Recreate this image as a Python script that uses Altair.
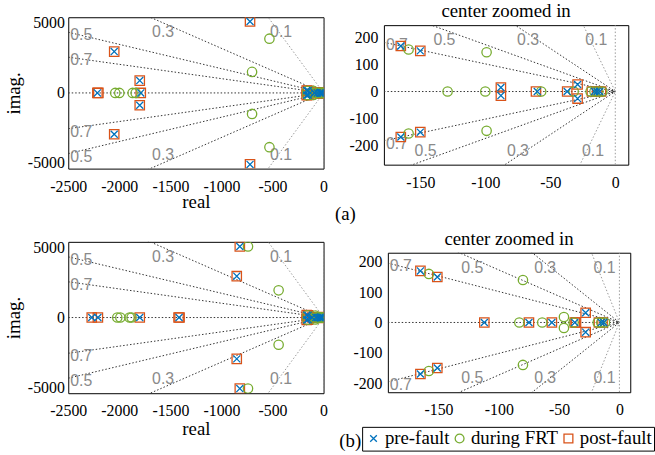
import altair as alt
import numpy as np
import pandas as pd

SERIES = ["pre-fault", "during FRT", "post-fault"]
COLORS = ["#0072BD", "#77AC30", "#D95319"]
XPATH = "M-0.75,-0.75L0.75,0.75M-0.75,0.75L0.75,-0.75"
SHAPES = [XPATH, "circle", "square"]
ZETA = [0.1, 0.3, 0.5, 0.7]

# ---- case (a) ----
a_pre_re = [-2215, -1790, -2050, -2050, -1800, -1800, -720, -720, -165, -165, -150, -150,
            -88, -88, -60, -37, -29, -29, -16, -14, -12]
a_pre_im = [0, 0, 2950, -2950, 880, -880, 5100, -5100, 168, -168, 150, -150,
            15, -15, 0, 0, 26, -26, 0, 0, 0]
a_post_re = [-2215, -2205, -1790, -2050, -2050, -1800, -1800, -720, -720, -165, -165, -150, -150,
             -88, -88, -61, -37, -29, -29, -18, -14, -11]
a_post_im = [0, 0, 0, 2950, -2950, 880, -880, 5100, -5100, 168, -168, 150, -150,
             15, -15, 0, 0, 26, -26, 0, 0, 0]
a_frt_re = [-2040, -2000, -1870, -1840, -700, -700, -530, -530, -159, -159, -129, -100,
            -99, -99, -57, -32, -19, -16, -13, -10]
a_frt_im = [0, 0, 0, 0, 1500, -1500, 3870, -3870, 155, -155, 0, 0,
            145, -145, 0, 0, 0, 0, 0, 0]

# ---- case (b) ----
b_pre_re = [-2270, -2210, -1800, -1415, -850, -850, -820, -820, -165, -165, -151, -151,
            -112, -75, -56, -37, -28, -28, -15, -13]
b_pre_im = [0, 0, 0, 0, 2950, -2950, 5070, -5070, 170, -170, 150, -150,
            0, 0, 0, 0, 32, -32, 0, 0]
b_post_re = [-2270, -2210, -1800, -1420, -1410, -850, -850, -820, -820, -165, -165, -151, -151,
             -112, -75, -56, -37, -36, -28, -28, -17, -14]
b_post_im = [0, 0, 0, 0, 0, 2950, -2950, 5070, -5070, 170, -170, 150, -150,
             0, 0, 0, 0, 0, 32, -32, 0, 0]
b_frt_re = [-2020, -1990, -1900, -1880, -740, -740, -440, -440, -158, -158, -83, -80, -80,
            -64, -46, -46, -38, -18, -15, -12]
b_frt_im = [0, 0, 0, 0, 5070, -5070, 1940, -1940, 160, -160, 0, 140, -140,
            0, 18, -18, 0, 0, 0, 0]

FULL_X = [-2500, -2000, -1500, -1000, -500, 0]
FULL_Y = [-5000, 0, 5000]
ZOOM_X = [-150, -100, -50, 0]
ZOOM_Y = [-200, -100, 0, 100, 200]

SERIF = "Liberation Serif"
LEG = alt.Legend(orient="none", legendX=297, legendY=414, direction="horizontal",
                 title=None, labelFont=SERIF, labelFontSize=19, labelColor="black",
                 strokeColor="black", padding=2, columnPadding=0, labelOffset=2,
                 symbolSize=80, symbolStrokeWidth=1.3, columns=3, cornerRadius=0)


def points_df(pre, frt, post):
    rows = []
    for name, (re, im) in (("post-fault", post), ("during FRT", frt), ("pre-fault", pre)):
        for r, i in zip(re, im):
            rows.append({"re": r, "im": i, "series": name})
    return pd.DataFrame(rows)


def zeta_lines(xdom, ydom):
    rows = []
    x0 = xdom[0]
    for z in ZETA:
        k = np.sqrt(1 - z * z) / z
        for s in (1, -1):
            seg = f"{z}_{s}"
            rows.append({"re": 0.0, "im": 0.0, "seg": seg, "z": z})
            rows.append({"re": x0, "im": s * k * (-x0), "seg": seg, "z": z})
    rows.append({"re": x0, "im": 0.0, "seg": "h", "z": 1.0})
    rows.append({"re": 0.0, "im": 0.0, "seg": "h", "z": 1.0})
    rows.append({"re": 0.0, "im": ydom[0], "seg": "v", "z": 0.0})
    rows.append({"re": 0.0, "im": ydom[1], "seg": "v", "z": 0.0})
    return pd.DataFrame(rows)


def zeta_labels(xdom, ydom):
    rows = []
    x0 = xdom[0]
    for z in ZETA:
        k = np.sqrt(1 - z * z) / z
        for s in (1, -1):
            yb = ydom[1] if s > 0 else ydom[0]
            ye = s * k * (-x0)
            if abs(ye) <= abs(yb):
                rows.append({"re": x0, "im": ye, "kind": "left", "txt": str(z)})
            else:
                rows.append({"re": -abs(yb) / k, "im": yb,
                             "kind": "top" if s > 0 else "bottom", "txt": str(z)})
    return pd.DataFrame(rows)


def panel(pre, frt, post, xdom, ydom, xticks, yticks, w, h,
          xtitle=None, ytitle=None, title=None, tag=None, ylabpad=4, xtpad=0):
    X = alt.X("re:Q", scale=alt.Scale(domain=xdom, nice=False, zero=False),
              axis=alt.Axis(values=xticks, title=xtitle, labelExpr="datum.value + ''",
                            labelFlush=False, labelPadding=10, titlePadding=xtpad))
    Y = alt.Y("im:Q", scale=alt.Scale(domain=ydom, nice=False, zero=False),
              axis=alt.Axis(values=yticks, title=ytitle, labelExpr="datum.value + ''",
                            labelPadding=ylabpad, titlePadding=4))

    lines = alt.Chart(zeta_lines(xdom, ydom)).mark_line(
        clip=True, strokeDash=[1.5, 2], strokeWidth=1).encode(
        x=X, y=Y, detail="seg:N",
        color=alt.condition("datum.z < 0.2", alt.value("#9a9a9a"), alt.value("#333333")))

    lab = zeta_labels(xdom, ydom)
    base_t = alt.Chart(lab)
    tstyle = dict(font="Liberation Sans", fontSize=16, color="#8a8a8a", align="left")
    t_left = base_t.transform_filter("datum.kind == 'left'").mark_text(
        baseline="middle", dx=2, dy=3, **tstyle).encode(x=X, y=Y, text="txt:N")
    t_top = base_t.transform_filter("datum.kind == 'top'").mark_text(
        baseline="top", dx=2, dy=7, **tstyle).encode(x=X, y=Y, text="txt:N")
    t_bot = base_t.transform_filter("datum.kind == 'bottom'").mark_text(
        baseline="bottom", dx=2, dy=-6, **tstyle).encode(x=X, y=Y, text="txt:N")

    pts = alt.Chart(points_df(pre, frt, post)).mark_point(
        filled=False, size=90, strokeWidth=1.3, clip=True, opacity=1).encode(
        x=X, y=Y,
        color=alt.Color("series:N", scale=alt.Scale(domain=SERIES, range=COLORS), legend=LEG),
        shape=alt.Shape("series:N", scale=alt.Scale(domain=SERIES, range=SHAPES), legend=LEG))

    layers = [lines, t_left, t_top, t_bot, pts]
    if tag is not None:
        tdf = pd.DataFrame({"t": [tag[0]]})
        layers.append(alt.Chart(tdf).mark_text(font=SERIF, fontSize=19, color="black").encode(
            x=alt.value(tag[1]), y=alt.value(tag[2]), text="t:N"))
    ch = alt.layer(*layers).properties(width=w, height=h)
    if title is not None:
        ch = ch.properties(title=alt.TitleParams(title, font=SERIF, fontSize=19,
                                                 fontWeight="normal", offset=4, color="black"))
    return ch


def spacer(w, h):
    return alt.Chart(pd.DataFrame({"v": [0]})).mark_point(opacity=0).encode(
        x=alt.value(0), y=alt.value(0)).properties(
        width=w, height=h, view=alt.ViewBackground(stroke="transparent"))


TL = panel((a_pre_re, a_pre_im), (a_frt_re, a_frt_im), (a_post_re, a_post_im),
           [-2500, 0], [-5400, 5400], FULL_X, FULL_Y, 258, 153,
           xtitle="real", ytitle="imag.", xtpad=-2)
TR = panel((a_pre_re, a_pre_im), (a_frt_re, a_frt_im), (a_post_re, a_post_im),
           [-178, 10], [-270, 245], ZOOM_X, ZOOM_Y, 247, 141,
           title="center zoomed in", tag=("(a)", -39, 191), ylabpad=6)
BL = panel((b_pre_re, b_pre_im), (b_frt_re, b_frt_im), (b_post_re, b_post_im),
           [-2500, 0], [-5400, 5400], FULL_X, FULL_Y, 258, 153,
           xtitle="real", ytitle="imag.", xtpad=1)
BR = panel((b_pre_re, b_pre_im), (b_frt_re, b_frt_im), (b_post_re, b_post_im),
           [-192, 9], [-230, 230], ZOOM_X, ZOOM_Y, 245, 141,
           title="center zoomed in", tag=("(b)", -38, 190), ylabpad=6)

RES = dict(x="independent", y="independent")
# left column: TL above BL; right column: TR (a little lower than TL) above BR
col1 = alt.vconcat(TL, BL, spacing=74, bounds="flush").resolve_scale(**RES)
row_br = alt.hconcat(spacer(4, 1), BR, spacing=0, bounds="flush").resolve_scale(**RES)
col2 = alt.vconcat(spacer(1, 8), TR, spacer(1, 89), row_br, spacing=0,
                   bounds="flush").resolve_scale(**RES)
chart = alt.hconcat(col1, col2, spacing=5).resolve_scale(**RES).properties(
    padding={"left": 4, "top": -1, "right": 0, "bottom": 0}, background="white"
).configure_axis(
    labelFont=SERIF, labelFontSize=16, labelColor="black",
    titleFont=SERIF, titleFontSize=19, titleFontWeight="normal", titleColor="black",
    grid=False, ticks=False, domain=False
).configure_view(stroke="black", strokeWidth=1)

chart.save("out.html", embed_options={"renderer": "svg", "actions": False})
